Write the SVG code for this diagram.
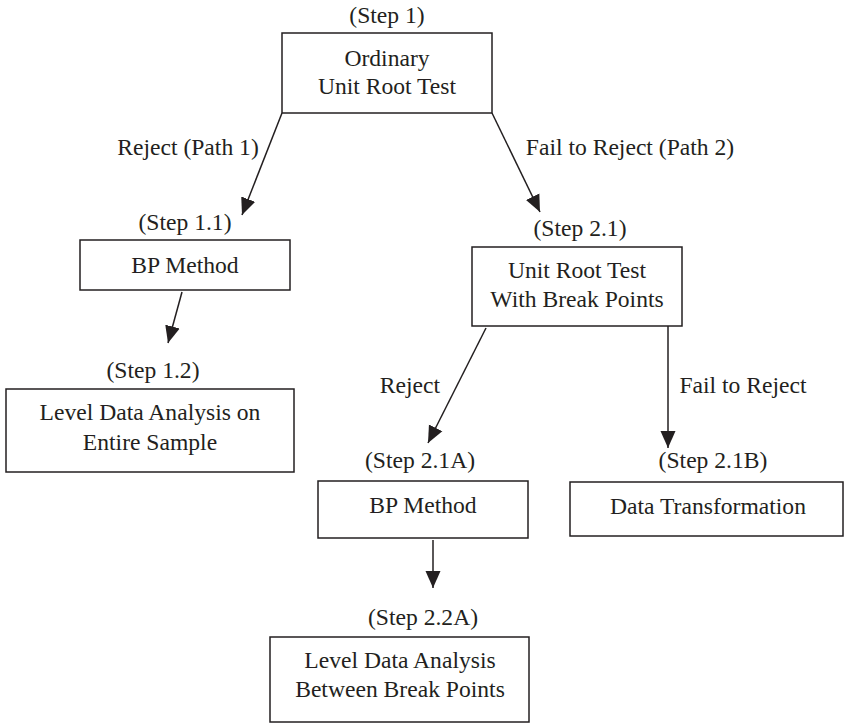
<svg xmlns="http://www.w3.org/2000/svg" width="863" height="724" viewBox="0 0 863 724">
<style>
text{font-family:"Liberation Serif","Times New Roman",serif;font-size:23.6px;fill:#231f20;text-anchor:middle}
.box{fill:#fff;stroke:#231f20;stroke-width:1.5}
.conn{stroke:#231f20;stroke-width:1.5;fill:none;marker-end:url(#ah)}
</style>
<defs>
<marker id="ah" markerUnits="userSpaceOnUse" markerWidth="18" markerHeight="16" refX="17" refY="8" orient="auto">
<path d="M0,0.5 L17,8 L0,15.5 Z" fill="#231f20"/>
</marker>
</defs>
<rect width="863" height="724" fill="#fff"/>
<g id="connectors">
<line class="conn" x1="282" y1="113" x2="242" y2="215"/>
<line class="conn" x1="492" y1="113" x2="540" y2="212"/>
<line class="conn" x1="182" y1="292" x2="168" y2="343"/>
<line class="conn" x1="486" y1="328" x2="428" y2="443"/>
<line class="conn" x1="668" y1="326" x2="668" y2="448"/>
<line class="conn" x1="433" y1="540" x2="433" y2="588"/>
<text x="188" y="155">Reject (Path 1)</text>
<text x="630" y="155">Fail to Reject (Path 2)</text>
<text x="410" y="393">Reject</text>
<text x="743" y="393">Fail to Reject</text>
</g>
<g id="step1">
<text x="387" y="23">(Step 1)</text>
<rect class="box" x="282" y="33" width="210" height="80"/>
<text x="387" y="66">Ordinary</text>
<text x="387" y="94">Unit Root Test</text>
</g>
<g id="step1_1">
<text x="185" y="230">(Step 1.1)</text>
<rect class="box" x="80" y="240" width="210" height="50"/>
<text x="185" y="273">BP Method</text>
</g>
<g id="step1_2">
<text x="153" y="378">(Step 1.2)</text>
<rect class="box" x="6" y="389" width="288" height="83"/>
<text x="150" y="420">Level Data Analysis on</text>
<text x="150" y="450">Entire Sample</text>
</g>
<g id="step2_1">
<text x="580" y="236">(Step 2.1)</text>
<rect class="box" x="472" y="247" width="210" height="79"/>
<text x="577" y="278">Unit Root Test</text>
<text x="577" y="307">With Break Points</text>
</g>
<g id="step2_1A">
<text x="420" y="468">(Step 2.1A)</text>
<rect class="box" x="318" y="481" width="210" height="57"/>
<text x="423" y="513">BP Method</text>
</g>
<g id="step2_1B">
<text x="713" y="468">(Step 2.1B)</text>
<rect class="box" x="570" y="482" width="273" height="54"/>
<text x="708" y="514">Data Transformation</text>
</g>
<g id="step2_2A">
<text x="423" y="625">(Step 2.2A)</text>
<rect class="box" x="270" y="637" width="259" height="85"/>
<text x="400" y="668">Level Data Analysis</text>
<text x="400" y="697">Between Break Points</text>
</g>
</svg>
